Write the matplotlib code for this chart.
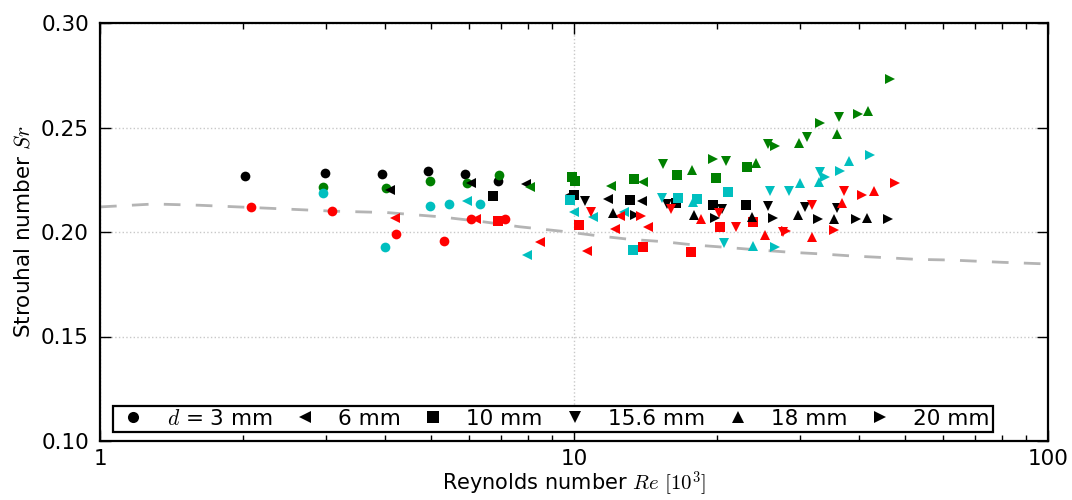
import numpy as np
import matplotlib
matplotlib.use('Agg')
import matplotlib.pyplot as plt
from matplotlib.ticker import FixedLocator, FormatStrFormatter, LogLocator, NullFormatter
from matplotlib.lines import Line2D

plt.rcParams['font.family'] = ['DejaVu Sans']
plt.rcParams['mathtext.fontset'] = 'cm'
plt.rcParams['font.size'] = 15

# ---------------- data (Re in 10^3, Sr) ----------------
# d = 3 mm (circles)
d3 = {
    'k': ([2.02, 2.99, 3.94, 4.92, 5.90, 6.90],
          [0.2268, 0.2282, 0.2279, 0.2293, 0.2278, 0.2245]),
    'g': ([2.96, 4.01, 4.96, 5.94, 6.95],
          [0.2214, 0.2212, 0.2243, 0.2233, 0.2271]),
    'c': ([2.96, 3.99, 4.98, 5.46, 6.34],
          [0.2188, 0.1928, 0.2126, 0.2133, 0.2134]),
    'r': ([2.08, 3.08, 4.21, 5.31, 6.06, 7.15],
          [0.2121, 0.2100, 0.1990, 0.1957, 0.2062, 0.2062]),
}
# d = 6 mm (left triangles)
d6 = {
    'k': ([4.09, 6.05, 7.91, 9.81, 11.81, 13.90],
          [0.2201, 0.2234, 0.2229, 0.2177, 0.2156, 0.2148]),
    'g': ([8.07, 11.97, 14.01],
          [0.2214, 0.2222, 0.2241]),
    'c': ([5.94, 7.96, 10.0, 10.98, 12.75],
          [0.2150, 0.1890, 0.2097, 0.2070, 0.2097]),
    'r': ([4.19, 6.21, 8.48, 10.67, 12.21, 12.50, 14.35],
          [0.2067, 0.2062, 0.1952, 0.1911, 0.2013, 0.2077, 0.2025]),
}
# d = 10 mm (squares)
d10 = {
    'k': ([6.76, 10.0, 13.13, 16.45, 19.67, 23.06],
          [0.2172, 0.2177, 0.2151, 0.2141, 0.2129, 0.2129]),
    'g': ([9.88, 10.05, 13.38, 16.47, 19.93, 23.13],
          [0.2265, 0.2242, 0.2255, 0.2273, 0.2258, 0.2310]),
    'c': ([9.83, 13.33, 16.6, 18.14, 21.16],
          [0.2153, 0.1914, 0.2165, 0.2156, 0.2193]),
    'r': ([6.92, 10.24, 14.01, 17.65, 20.32, 23.89],
          [0.2053, 0.2034, 0.1930, 0.1906, 0.2025, 0.2049]),
}
# d = 15.6 mm (down triangles)
d15 = {
    'k': ([10.55, 15.68, 20.48, 25.66, 30.72, 35.82],
          [0.2150, 0.2134, 0.2109, 0.2125, 0.2118, 0.2113]),
    'g': ([15.38, 20.88, 25.70, 31.06, 36.28],
          [0.2325, 0.2341, 0.2421, 0.2456, 0.2552]),
    'c': ([15.31, 20.75, 25.91, 28.42, 33.04],
          [0.2164, 0.1947, 0.2198, 0.2198, 0.2287]),
    'r': ([10.84, 15.99, 20.24, 21.93, 27.55, 31.72, 37.12],
          [0.2097, 0.2110, 0.2092, 0.2025, 0.1999, 0.2129, 0.2198]),
}
# d = 18 mm (up triangles)
d18 = {
    'k': ([12.10, 17.91, 23.71, 29.64, 35.41, 41.46],
          [0.2091, 0.2081, 0.2070, 0.2081, 0.2061, 0.2066]),
    'g': ([17.77, 24.16, 29.88, 35.82, 41.77],
          [0.2297, 0.2332, 0.2424, 0.2469, 0.2580]),
    'c': ([17.85, 23.89, 29.99, 32.93, 38.09],
          [0.2145, 0.1933, 0.2233, 0.2239, 0.2341]),
    'r': ([18.51, 25.29, 31.82, 36.70, 42.95],
          [0.2061, 0.1986, 0.1975, 0.2141, 0.2198]),
}
# d = 20 mm (right triangles)
d20 = {
    'k': ([13.45, 19.84, 26.29, 32.77, 39.28, 46.03],
          [0.2079, 0.2066, 0.2069, 0.2062, 0.2061, 0.2061]),
    'g': ([19.61, 26.55, 33.04, 39.8, 46.42],
          [0.2348, 0.2411, 0.2523, 0.2565, 0.2731]),
    'c': ([26.55, 33.84, 36.4, 42.12],
          [0.1926, 0.2263, 0.2294, 0.2368]),
    'r': ([13.82, 28.02, 35.36, 40.55, 47.55],
          [0.2078, 0.2006, 0.2011, 0.2177, 0.2236]),
}

# reference curve (dashed)
re_ref = [1.0, 1.3, 1.62, 2.2, 3.08, 4.03, 5.2, 6.43, 7.68, 9.65, 11.3, 13.1,
          15.4, 17.9, 20.8, 24.5, 28.6, 33.3, 38.8, 45.7, 52.8, 62.1, 80, 100]
sr_ref = [0.2120, 0.2134, 0.2128, 0.2115, 0.2100, 0.2093, 0.2073, 0.2049,
          0.2025, 0.2001, 0.1981, 0.1965, 0.1954, 0.1938, 0.1927, 0.1914,
          0.1903, 0.1895, 0.1885, 0.1877, 0.1869, 0.1866, 0.1855, 0.1847]

series = [(d3, 'o'), (d6, '<'), (d10, 's'), (d15, 'v'), (d18, '^'), (d20, '>')]
legend_labels = ['$d$ = 3 mm', '6 mm', '10 mm', '15.6 mm', '18 mm', '20 mm']
colors = {'k': '#000000', 'g': '#008000', 'c': '#00bfbf', 'r': '#ff0000'}

# ---------------- plot ----------------
fig = plt.figure(figsize=(10.72, 5.0), dpi=100)
ax = fig.add_axes([0.0933, 0.118, 0.8843, 0.836])

ax.plot(re_ref, sr_ref, color='#b4b4b4', linewidth=2, dashes=(6, 5.5), zorder=1)

for data, mk in series:
    for c in ['k', 'g', 'c', 'r']:
        re, sr = data[c]
        ax.plot(re, sr, linestyle='none', marker=mk, markersize=7,
                color=colors[c], markeredgewidth=0, zorder=3)

ax.set_xscale('log')
ax.set_xlim(1, 100)
ax.set_ylim(0.10, 0.30)
ax.xaxis.set_major_locator(FixedLocator([1, 10, 100]))
ax.set_xticklabels(['1', '10', '100'])
ax.xaxis.set_minor_locator(LogLocator(base=10, subs=np.arange(2, 10)))
ax.xaxis.set_minor_formatter(NullFormatter())
ax.set_yticks(np.arange(0.10, 0.301, 0.05))
ax.yaxis.set_major_formatter(FormatStrFormatter('%.2f'))

ax.tick_params(which='both', direction='in', top=True, right=True)
ax.tick_params(which='major', length=8, width=1, labelsize=15.5, pad=8)
ax.tick_params(axis='x', which='major', pad=6)
ax.tick_params(which='minor', length=4, width=1)
ax.grid(True, which='major', color='#c8c8c8', linestyle=':', linewidth=1)
for s in ax.spines.values():
    s.set_linewidth(1.6)

ax.set_xlabel('Reynolds number $Re$ $[10^3]$', fontsize=15, labelpad=0)
ax.set_ylabel('Strouhal number $Sr$', fontsize=15.5, labelpad=5)

handles = [Line2D([], [], linestyle='none', marker=mk, color='k', markersize=8,
                  markeredgewidth=0) for _, mk in series]
leg = ax.legend(handles, legend_labels, loc='lower left', ncol=6, fontsize=15.5,
                bbox_to_anchor=(0.0135, 0.0215), borderaxespad=0, frameon=True,
                fancybox=False, handlelength=1.6, handletextpad=0.75,
                columnspacing=0.7, borderpad=0.15, numpoints=1)
leg.get_frame().set_edgecolor('k')
leg.get_frame().set_linewidth(1.6)
leg.get_frame().set_alpha(1)

fig.savefig('out.png', dpi=100)
